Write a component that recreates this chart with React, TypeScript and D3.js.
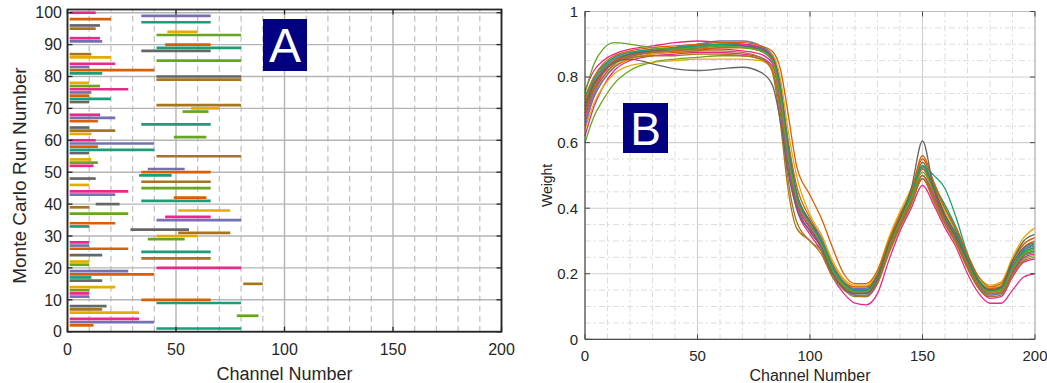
import React from 'react';
import * as d3 from 'd3';

// ---------- Panel A data (run number 1..100) ----------
const runStart = [
  41, 1, 1, 1, 78, 1, 1, 1, 41, 34,
  1, 1, 1, 1, 81, 1, 1, 1, 1, 41,
  1, 1, 34, 1, 34, 1, 1, 1, 37, 41,
  51, 29, 1, 1, 41, 45, 1, 51, 1, 13,
  34, 49, 1, 1, 34, 1, 34, 1, 33, 34,
  37, 1, 1, 1, 41, 1, 1, 1, 1, 1,
  49, 1, 1, 1, 34, 1, 1, 1, 53, 57,
  41, 1, 1, 1, 1, 1, 1, 1, 41, 41,
  1, 1, 1, 1, 41, 1, 1, 34, 41, 45,
  1, 1, 41, 46, 1, 1, 34, 1, 34, 1,
];
const runEnd = [
  80, 12, 40, 33, 88, 33, 16, 18, 80, 66,
  10, 10, 10, 22, 90, 16, 11, 40, 28, 80,
  10, 10, 66, 16, 66, 28, 10, 10, 54, 60,
  75, 56, 10, 22, 80, 66, 28, 75, 10, 24,
  66, 64, 22, 28, 66, 10, 66, 13, 48, 66,
  54, 12, 14, 11, 80, 10, 40, 14, 40, 13,
  64, 11, 22, 10, 66, 14, 22, 15, 65, 70,
  80, 10, 20, 10, 11, 28, 15, 10, 80, 80,
  16, 40, 10, 22, 80, 20, 11, 66, 80, 66,
  16, 15, 80, 60, 13, 15, 66, 20, 66, 13,
];
const ticksAX = [0, 50, 100, 150, 200];
const ticksAY = [0, 10, 20, 30, 40, 50, 60, 70, 80, 90, 100];

// ---------- Panel B data ----------
const channels = [0, 4, 8, 13, 20, 30, 40, 50, 60, 70, 78, 83, 87, 90, 94, 100, 105, 110, 115, 120, 125, 130, 135, 140, 145, 150, 155, 160, 165, 170, 175, 180, 185, 190, 195, 200];
const w01 = [0.74,0.80,0.835,0.86,0.875,0.885,0.89,0.895,0.9,0.9,0.885,0.86,0.75,0.58,0.44,0.35,0.30,0.22,0.17,0.15,0.15,0.19,0.29,0.37,0.44,0.53,0.47,0.40,0.33,0.25,0.18,0.15,0.155,0.22,0.27,0.29];
const w02 = [0.66,0.74,0.79,0.83,0.855,0.87,0.875,0.88,0.89,0.89,0.88,0.865,0.77,0.62,0.47,0.37,0.31,0.23,0.175,0.16,0.16,0.2,0.3,0.38,0.45,0.55,0.47,0.38,0.32,0.245,0.18,0.155,0.16,0.23,0.28,0.3];
const w03 = [0.72,0.79,0.825,0.855,0.87,0.88,0.89,0.9,0.9,0.895,0.88,0.85,0.72,0.55,0.41,0.33,0.28,0.2,0.155,0.135,0.135,0.175,0.27,0.35,0.42,0.5,0.44,0.36,0.3,0.225,0.16,0.135,0.14,0.2,0.255,0.27];
const w04 = [0.62,0.71,0.77,0.82,0.85,0.865,0.87,0.875,0.875,0.87,0.86,0.835,0.70,0.54,0.40,0.32,0.27,0.19,0.14,0.11,0.105,0.14,0.24,0.33,0.40,0.47,0.41,0.34,0.28,0.2,0.14,0.11,0.11,0.15,0.19,0.2];
const w05 = [0.75,0.84,0.885,0.905,0.9,0.89,0.885,0.89,0.895,0.89,0.88,0.855,0.73,0.57,0.43,0.35,0.29,0.21,0.165,0.145,0.145,0.185,0.28,0.36,0.43,0.51,0.45,0.37,0.31,0.235,0.17,0.145,0.15,0.215,0.26,0.275];
const w06 = [0.68,0.76,0.80,0.835,0.855,0.87,0.88,0.89,0.89,0.89,0.885,0.87,0.79,0.65,0.5,0.38,0.32,0.24,0.185,0.165,0.165,0.21,0.31,0.39,0.46,0.54,0.48,0.39,0.33,0.255,0.19,0.165,0.175,0.25,0.31,0.34];
const w07 = [0.70,0.76,0.80,0.84,0.86,0.865,0.865,0.87,0.87,0.865,0.855,0.825,0.68,0.5,0.36,0.3,0.27,0.2,0.16,0.14,0.14,0.18,0.27,0.35,0.42,0.5,0.43,0.36,0.3,0.225,0.165,0.14,0.145,0.21,0.26,0.27];
const w08 = [0.71,0.78,0.815,0.845,0.855,0.84,0.825,0.82,0.825,0.83,0.815,0.78,0.66,0.52,0.40,0.33,0.28,0.2,0.155,0.14,0.14,0.185,0.29,0.37,0.46,0.605,0.46,0.37,0.31,0.24,0.175,0.15,0.16,0.24,0.3,0.32];
const w09 = [0.69,0.77,0.815,0.85,0.87,0.88,0.885,0.89,0.895,0.895,0.885,0.86,0.74,0.58,0.43,0.35,0.3,0.22,0.17,0.15,0.15,0.19,0.28,0.36,0.44,0.52,0.47,0.41,0.34,0.25,0.18,0.15,0.15,0.21,0.255,0.265];
const w10 = [0.73,0.80,0.84,0.865,0.88,0.89,0.895,0.9,0.905,0.905,0.895,0.88,0.82,0.7,0.53,0.44,0.37,0.28,0.2,0.17,0.17,0.21,0.3,0.38,0.45,0.56,0.48,0.4,0.34,0.26,0.19,0.16,0.17,0.24,0.29,0.31];
const w11 = [0.67,0.75,0.80,0.84,0.865,0.88,0.89,0.9,0.91,0.91,0.895,0.87,0.76,0.6,0.44,0.355,0.3,0.215,0.17,0.15,0.15,0.19,0.285,0.365,0.435,0.52,0.455,0.375,0.315,0.24,0.175,0.15,0.155,0.22,0.27,0.285];
const w12 = [0.76,0.82,0.85,0.87,0.885,0.895,0.905,0.91,0.905,0.9,0.89,0.86,0.73,0.56,0.42,0.34,0.285,0.205,0.16,0.14,0.14,0.18,0.275,0.355,0.425,0.5,0.44,0.365,0.305,0.23,0.165,0.14,0.145,0.205,0.25,0.26];
const w13 = [0.60,0.68,0.73,0.78,0.82,0.845,0.855,0.86,0.865,0.865,0.855,0.83,0.71,0.55,0.41,0.33,0.28,0.2,0.155,0.135,0.135,0.175,0.27,0.35,0.42,0.49,0.43,0.36,0.3,0.225,0.16,0.135,0.14,0.2,0.245,0.255];
const w14 = [0.64,0.72,0.77,0.81,0.835,0.845,0.85,0.855,0.855,0.855,0.85,0.83,0.72,0.58,0.44,0.36,0.31,0.23,0.18,0.16,0.16,0.2,0.3,0.38,0.45,0.53,0.46,0.38,0.32,0.245,0.18,0.155,0.165,0.235,0.29,0.31];
const w15 = [0.72,0.78,0.82,0.85,0.865,0.875,0.88,0.88,0.88,0.875,0.86,0.82,0.65,0.47,0.34,0.3,0.26,0.19,0.15,0.13,0.13,0.17,0.26,0.34,0.41,0.49,0.42,0.35,0.29,0.215,0.155,0.13,0.135,0.195,0.24,0.25];
const w16 = [0.70,0.78,0.82,0.85,0.87,0.88,0.885,0.89,0.895,0.895,0.885,0.865,0.76,0.6,0.45,0.36,0.3,0.22,0.17,0.15,0.15,0.195,0.29,0.37,0.44,0.54,0.46,0.38,0.32,0.245,0.175,0.15,0.16,0.23,0.28,0.295];
const w17 = [0.71,0.79,0.83,0.86,0.875,0.885,0.89,0.895,0.9,0.9,0.89,0.865,0.75,0.59,0.44,0.35,0.295,0.215,0.165,0.145,0.145,0.19,0.285,0.365,0.44,0.53,0.5,0.46,0.37,0.26,0.18,0.15,0.155,0.22,0.265,0.28];
const w18 = [0.69,0.77,0.815,0.85,0.87,0.88,0.885,0.885,0.89,0.89,0.88,0.86,0.74,0.58,0.43,0.35,0.295,0.215,0.165,0.145,0.145,0.185,0.28,0.36,0.43,0.52,0.45,0.37,0.31,0.235,0.17,0.145,0.15,0.215,0.265,0.28];
const w19 = [0.65,0.74,0.79,0.83,0.86,0.875,0.885,0.895,0.9,0.9,0.89,0.87,0.77,0.61,0.45,0.36,0.31,0.225,0.175,0.155,0.155,0.195,0.29,0.37,0.44,0.525,0.455,0.375,0.315,0.24,0.175,0.15,0.155,0.22,0.275,0.29];
const w20 = [0.68,0.76,0.81,0.845,0.865,0.875,0.88,0.885,0.885,0.88,0.87,0.845,0.72,0.56,0.42,0.34,0.285,0.205,0.155,0.135,0.13,0.17,0.265,0.345,0.415,0.49,0.43,0.355,0.295,0.22,0.155,0.125,0.13,0.19,0.235,0.245];
const weightSeries = [w13, w04, w14, w02, w19, w11, w06, w20, w03, w09, w18, w16, w01, w17, w12, w07, w15, w10, w05, w08];
const seriesColorIdx = [4, 3, 5, 1, 2, 2, 5, 3, 2, 0, 1, 7, 0, 0, 3, 6, 6, 1, 4, 7];
const ticksBX = [0, 50, 100, 150, 200];
const ticksBY = [0, 0.2, 0.4, 0.6, 0.8, 1];
const tickLabelsBY = ['0', '0.2', '0.4', '0.6', '0.8', '1'];

const FONT = '"Liberation Sans", Arial, Helvetica, sans-serif';
const TXT = '#262626';

export default function App() {
  const palette = d3.schemeDark2;

  // Panel A scales
  const xA = d3.scaleLinear().domain([0, 200]).range([67.5, 501.5]);
  const yA = d3.scaleLinear().domain([0, 101]).range([331.7, 9.5]);
  const [ax0, ax1] = xA.range();
  const ay0 = yA(0), ay1 = yA(101);

  // Panel B scales
  const xB = d3.scaleLinear().domain([0, 200]).range([585, 1035]);
  const yB = d3.scaleLinear().domain([0, 1]).range([339.3, 11.5]);
  const [bx0, bx1] = xB.range();
  const by0 = yB(0), by1 = yB(1);

  const line = d3
    .line<number>()
    .x((_, i) => xB(channels[i]))
    .y((d) => yB(d))
    .curve(d3.curveMonotoneX);

  const minorAX = d3.range(10, 200, 10).filter((v) => v % 50 !== 0);
  const minorBX = d3.range(10, 200, 10).filter((v) => v % 50 !== 0);
  const minorBY = d3.range(0.05, 1, 0.05).filter((v) => Math.abs((v / 0.2) - Math.round(v / 0.2)) > 1e-6);

  return (
    <svg
      width={1047}
      height={383}
      style={{ position: 'absolute', left: 0, top: 0, background: '#fff' }}
      fontFamily={FONT}
    >
      <rect x={0} y={0} width={1047} height={383} fill="#fff" />

      {/* ================= PANEL A ================= */}
      <g>
        {minorAX.map((v) => (
          <line key={'amx' + v} x1={xA(v)} x2={xA(v)} y1={ay0} y2={ay1} stroke="#c4c4c4" strokeWidth={1.3} strokeDasharray="6,4" />
        ))}
        {ticksAX.map((v) => (
          <line key={'agx' + v} x1={xA(v)} x2={xA(v)} y1={ay0} y2={ay1} stroke="#b4b4b4" strokeWidth={1.4} />
        ))}
        {ticksAY.map((v) => (
          <line key={'agy' + v} x1={ax0} x2={ax1} y1={yA(v)} y2={yA(v)} stroke="#b4b4b4" strokeWidth={1.4} />
        ))}

        {runStart.map((s, i) => (
          <line
            key={'run' + i}
            x1={xA(s)}
            x2={xA(runEnd[i])}
            y1={yA(i + 1)}
            y2={yA(i + 1)}
            stroke={palette[i % 8]}
            strokeWidth={2.7}
          />
        ))}

        {/* ticks */}
        {ticksAY.map((v) => (
          <g key={'aty' + v}>
            <line x1={ax0} x2={ax0 + 5} y1={yA(v)} y2={yA(v)} stroke={TXT} strokeWidth={1.3} />
            <line x1={ax1} x2={ax1 - 5} y1={yA(v)} y2={yA(v)} stroke={TXT} strokeWidth={1.3} />
            <text x={62} y={yA(v)} dy="0.36em" textAnchor="end" fontSize={16} fill={TXT}>
              {v}
            </text>
          </g>
        ))}
        {ticksAX.map((v) => (
          <g key={'atx' + v}>
            <line x1={xA(v)} x2={xA(v)} y1={ay0} y2={ay0 - 5} stroke={TXT} strokeWidth={1.3} />
            <line x1={xA(v)} x2={xA(v)} y1={ay1} y2={ay1 + 5} stroke={TXT} strokeWidth={1.3} />
            <text x={xA(v)} y={355} textAnchor="middle" fontSize={16} fill={TXT}>
              {v}
            </text>
          </g>
        ))}
        <rect x={ax0} y={ay1} width={ax1 - ax0} height={ay0 - ay1} fill="none" stroke={TXT} strokeWidth={1.8} />

        <text x={(ax0 + ax1) / 2} y={380} textAnchor="middle" fontSize={18} fill={TXT}>
          Channel Number
        </text>
        <text transform={`translate(26,${(ay0 + ay1) / 2 + 5}) rotate(-90)`} textAnchor="middle" fontSize={19} fill={TXT}>
          Monte Carlo Run Number
        </text>

        <rect x={263} y={19} width={44} height={52} fill="#000080" />
        <text x={285} y={45} dy="0.36em" textAnchor="middle" fontSize={48} fill="#fff">
          A
        </text>
      </g>

      {/* ================= PANEL B ================= */}
      <g>
        {minorBX.map((v) => (
          <line key={'bmx' + v} x1={xB(v)} x2={xB(v)} y1={by0} y2={by1} stroke="#dcdcdc" strokeWidth={1} strokeDasharray="6,3,2,3" />
        ))}
        {minorBY.map((v) => (
          <line key={'bmy' + v.toFixed(2)} x1={bx0} x2={bx1} y1={yB(v)} y2={yB(v)} stroke="#dcdcdc" strokeWidth={1} strokeDasharray="6,3,2,3" />
        ))}
        {ticksBX.map((v) => (
          <line key={'bgx' + v} x1={xB(v)} x2={xB(v)} y1={by0} y2={by1} stroke="#cfcfcf" strokeWidth={1.1} />
        ))}
        {ticksBY.map((v) => (
          <line key={'bgy' + v} x1={bx0} x2={bx1} y1={yB(v)} y2={yB(v)} stroke="#cfcfcf" strokeWidth={1.1} />
        ))}

        {weightSeries.map((s, i) => (
          <path key={'ws' + i} d={line(s) || ''} fill="none" stroke={palette[seriesColorIdx[i]]} strokeWidth={1.3} />
        ))}

        {/* box */}
        <line x1={bx0} x2={bx1} y1={by1} y2={by1} stroke="#bdbdbd" strokeWidth={1.2} />
        <line x1={bx1} x2={bx1} y1={by0} y2={by1} stroke="#bdbdbd" strokeWidth={1.2} />
        <line x1={bx0} x2={bx1} y1={by0} y2={by0} stroke="#4a4a4a" strokeWidth={1.2} />
        <line x1={bx0} x2={bx0} y1={by0} y2={by1} stroke="#4a4a4a" strokeWidth={1.2} />

        {ticksBY.map((v, i) => (
          <g key={'bty' + v}>
            <line x1={bx0} x2={bx0 + 5} y1={yB(v)} y2={yB(v)} stroke="#4a4a4a" strokeWidth={1} />
            <line x1={bx1} x2={bx1 - 5} y1={yB(v)} y2={yB(v)} stroke="#4a4a4a" strokeWidth={1} />
            <text x={578} y={yB(v)} dy="0.36em" textAnchor="end" fontSize={15} fill={TXT}>
              {tickLabelsBY[i]}
            </text>
          </g>
        ))}
        {ticksBX.map((v) => (
          <g key={'btx' + v}>
            <line x1={xB(v)} x2={xB(v)} y1={by0} y2={by0 - 5} stroke="#4a4a4a" strokeWidth={1} />
            <line x1={xB(v)} x2={xB(v)} y1={by1} y2={by1 + 5} stroke="#4a4a4a" strokeWidth={1} />
            <text x={xB(v)} y={361} textAnchor="middle" fontSize={15} fill={TXT}>
              {v}
            </text>
          </g>
        ))}

        <text x={(bx0 + bx1) / 2} y={381} textAnchor="middle" fontSize={16} fill={TXT}>
          Channel Number
        </text>
        <text transform={`translate(552,${(by0 + by1) / 2 + 10}) rotate(-90)`} textAnchor="middle" fontSize={14} fill={TXT}>
          Weight
        </text>

        <rect x={623} y={103} width={45} height={50} fill="#000080" />
        <text x={645.5} y={128} dy="0.36em" textAnchor="middle" fontSize={46} fill="#fff">
          B
        </text>
      </g>
    </svg>
  );
}
